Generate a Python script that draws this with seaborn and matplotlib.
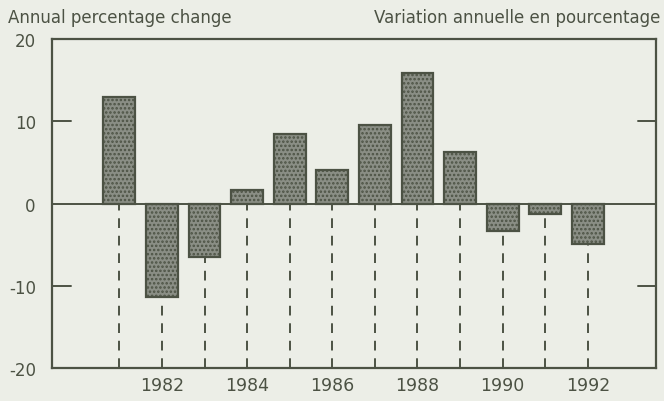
import matplotlib
matplotlib.use("Agg")
import matplotlib.pyplot as plt
import numpy as np
import pandas as pd
import seaborn as sns

# Annual percentage change, 1981-1992
years = [1981, 1982, 1983, 1984, 1985, 1986, 1987, 1988, 1989, 1990, 1991, 1992]
changes = [13.0, -11.3, -6.5, 1.6, 8.5, 4.1, 9.6, 15.9, 6.3, -3.3, -1.3, -4.9]
tick_years = [1982, 1984, 1986, 1988, 1990, 1992]
y_ticks = [20, 10, 0, -10, -20]

ink = "#4c5244"
bg = "#eceee7"

sns.set_theme(style="white")
plt.rcParams["font.family"] = ["DejaVu Sans"]
plt.rcParams["hatch.color"] = "#dfe1d9"
plt.rcParams["hatch.linewidth"] = 1.2

df = pd.DataFrame({"year": [str(y) for y in years], "change": changes})

fig = plt.figure(figsize=(6.64, 4.02), dpi=100, facecolor=bg)
ax = fig.add_axes([0.079, 0.082, 0.909, 0.818])
ax.set_facecolor(bg)

sns.barplot(data=df, x="year", y="change", color="#8a8e85", width=0.75,
            edgecolor=ink, linewidth=1.6, saturation=1, ax=ax)
for bar in ax.patches:
    bar.set_hatch("....")

# dashed drop lines from the bar (or zero) down to the bottom
pos = np.arange(len(years))
ax.vlines(pos, -20, np.minimum(changes, 0), colors=ink, linestyles=(0, (5, 4)),
          linewidth=1.4, zorder=1)
ax.axhline(0, color=ink, linewidth=1.4, zorder=3)

ax.set_ylim(-20, 20)
ax.set_xlim(-1.57, len(years) + 0.6)
ax.set_yticks(y_ticks)
ax.set_yticklabels([str(v) for v in y_ticks], fontsize=12, color=ink)
ax.set_xticks([years.index(y) for y in tick_years])
ax.set_xticklabels([str(y) for y in tick_years], fontsize=12.5, color=ink)
ax.tick_params(axis="x", length=0, pad=6)
ax.tick_params(axis="y", length=0, pad=12)

# small inner ticks at +/-10 on both sides
for v in (10, -10):
    ax.plot([0, 0.03], [v, v], transform=ax.get_yaxis_transform(), color=ink, lw=1.4)
    ax.plot([0.97, 1], [v, v], transform=ax.get_yaxis_transform(), color=ink, lw=1.4)

for s in ax.spines.values():
    s.set_visible(True)
    s.set_color(ink)
    s.set_linewidth(1.6)

ax.set_xlabel("")
ax.set_ylabel("")

fig.text(0.012, 0.955, "Annual percentage change", fontsize=12, color=ink, va="center")
fig.text(0.995, 0.955, "Variation annuelle en pourcentage", fontsize=12, color=ink,
         va="center", ha="right")

fig.savefig("out.png", dpi=100, facecolor=bg)
